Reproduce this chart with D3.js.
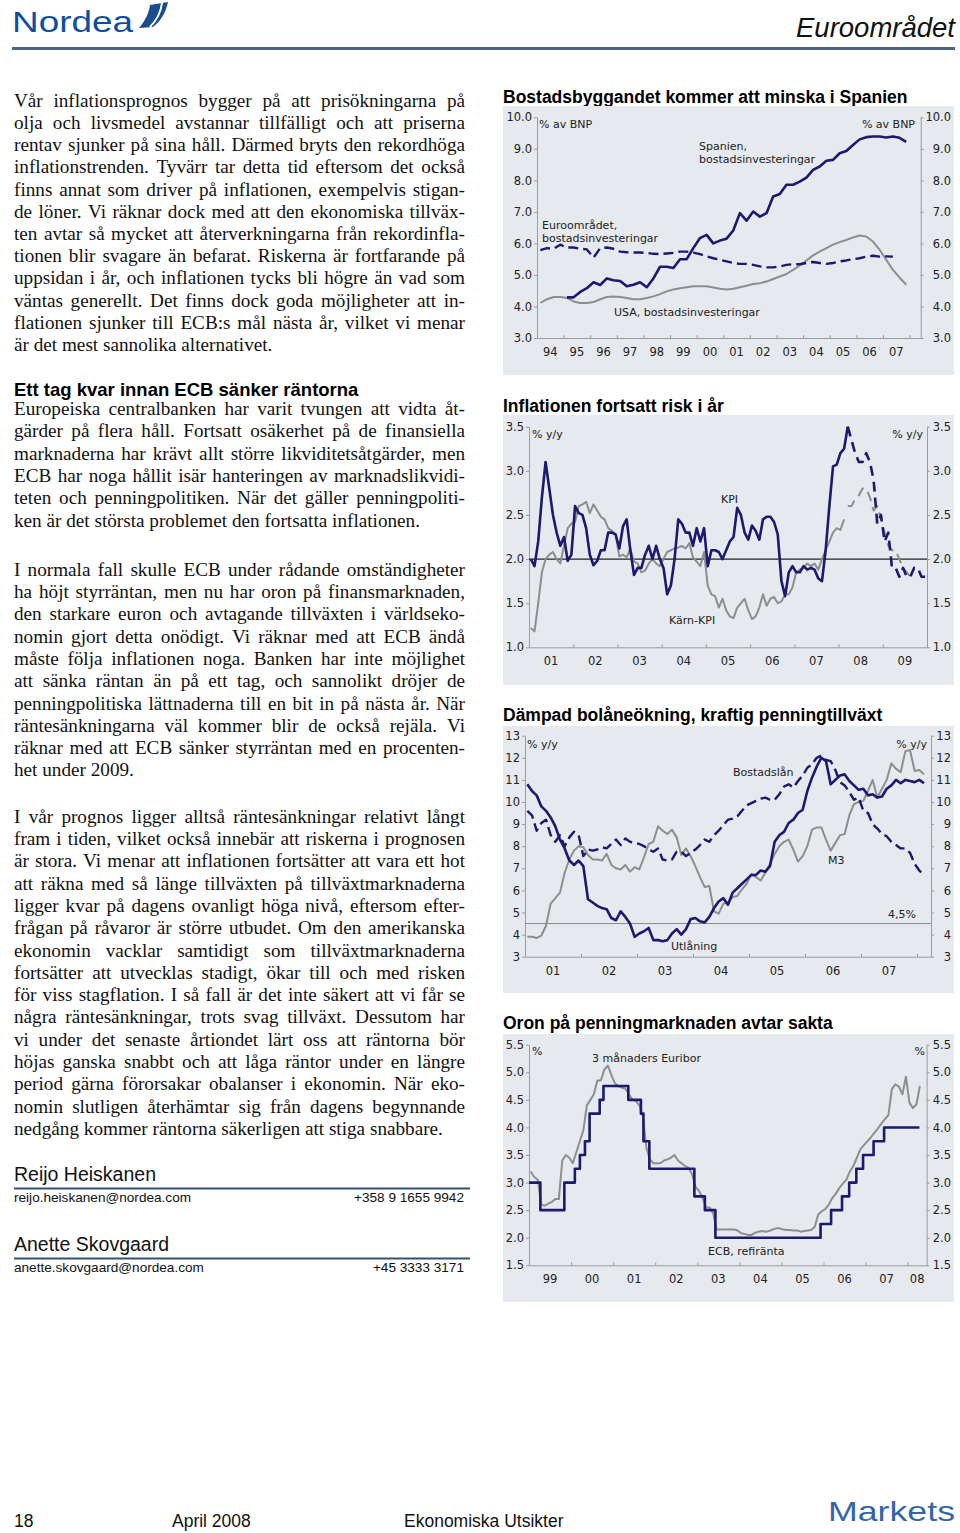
<!DOCTYPE html>
<html>
<head>
<meta charset="utf-8">
<script src="https://cdn.jsdelivr.net/npm/d3@7"></script>
<style>
body { margin: 0; background: #fff; }
svg { display: block; }
.body { font-family: 'Liberation Serif', 'Times New Roman', serif; font-size: 19.2px; fill: #111; }
.ctitle { font-family: 'Liberation Sans', Arial, sans-serif; font-weight: bold; font-size: 17.5px; fill: #000; }
.lbl { font-family: 'DejaVu Sans', Verdana, sans-serif; font-size: 11px; fill: #222; }
.axis path, .axis line { stroke: #9c9c9c; }
.axis text { font-family: 'DejaVu Sans', Verdana, sans-serif; font-size: 11.5px; fill: #222; }
.sans { font-family: 'Liberation Sans', Arial, sans-serif; fill: #111; }
</style>
</head>
<body>
<script>
// ---------- chart 1: housing investment, % of GDP, quarterly ----------
const spainStart = 1995
const spain = [4.29, 4.29, 4.46, 4.58, 4.77, 4.68, 4.89, 4.83, 4.81, 4.64, 4.69, 4.77,
	4.61, 4.89, 5.26, 5.26, 5.22, 5.5, 5.5, 5.85, 6.17, 6.27, 6.0, 6.09, 6.15, 6.41,
	6.96, 6.72, 7.01, 6.85, 6.96, 7.49, 7.57, 7.86, 7.86, 7.96, 8.09, 8.33, 8.44, 8.62,
	8.65, 8.86, 8.93, 9.12, 9.3, 9.37, 9.39, 9.39, 9.36, 9.39, 9.35, 9.22]
const euroStart = 1994
const euroArea = [5.79, 5.85, 5.83, 5.96, 5.87, 5.87, 5.83, 5.81, 5.55, 5.85, 5.87, 5.83,
	5.74, 5.72, 5.71, 5.71, 5.70, 5.67, 5.66, 5.68, 5.70, 5.74, 5.74, 5.71, 5.66, 5.59,
	5.53, 5.48, 5.43, 5.38, 5.35, 5.35, 5.32, 5.27, 5.24, 5.24, 5.27, 5.32, 5.34, 5.34,
	5.38, 5.41, 5.38, 5.35, 5.38, 5.43, 5.46, 5.50, 5.53, 5.58, 5.61, 5.58, 5.59, 5.58]
const usaStart = 1994
const usa = [4.11, 4.23, 4.3, 4.3, 4.27, 4.16, 4.11, 4.11, 4.14, 4.23, 4.3, 4.32, 4.3,
	4.27, 4.23, 4.23, 4.27, 4.32, 4.39, 4.48, 4.54, 4.58, 4.61, 4.64, 4.64, 4.64, 4.6,
	4.56, 4.54, 4.56, 4.61, 4.66, 4.71, 4.74, 4.79, 4.87, 4.95, 5.03, 5.16, 5.30, 5.46,
	5.62, 5.74, 5.85, 5.96, 6.04, 6.11, 6.19, 6.25, 6.22, 6.06, 5.80, 5.48, 5.16, 4.92, 4.69]
const c1Ticks = [3, 4, 5, 6, 7, 8, 9, 10]
const c1Labels = ['94', '95', '96', '97', '98', '99', '00', '01', '02', '03', '04', '05', '06', '07']

// ---------- chart 2: inflation, % y/y, monthly from Jan 2001 ----------
const kpi = [2.0, 1.92, 2.2, 2.7, 3.1, 2.8, 2.5, 2.3, 2.15, 2.25, 1.98, 2.05,
	2.6, 2.52, 2.5, 2.35, 2.05, 1.93, 1.98, 2.1, 2.1, 2.3, 2.3, 2.28,
	2.12, 2.37, 2.45, 2.1, 1.82, 1.9, 1.9, 2.05, 2.15, 2.0, 2.15, 2.0,
	1.9, 1.6, 1.7, 2.0, 2.45, 2.4, 2.3, 2.3, 2.15, 2.35, 2.2, 2.35,
	1.92, 2.1, 2.1, 2.08, 2.0, 2.1, 2.2, 2.25, 2.58, 2.5, 2.3, 2.22,
	2.38, 2.32, 2.22, 2.45, 2.48, 2.48, 2.42, 2.28, 1.75, 1.58, 1.85, 1.92,
	1.85, 1.85, 1.92, 1.88, 1.9, 1.88, 1.78, 1.75, 2.1, 2.6, 3.05, 3.07,
	3.2, 3.25, 3.5]
// forecast from Mar 2008
const kpiForecast = [3.5, 3.35, 3.2, 3.1, 3.1, 3.2, 3.1, 2.9, 2.4, 2.5, 2.2,
	2.3, 1.9, 1.9, 1.8, 1.9, 1.8, 1.8, 1.9, 1.9, 1.8, 1.8]
const coreKpi = [1.22, 1.18, 1.5, 1.85, 2.0, 2.05, 2.08, 2.0, 1.95, 2.15, 2.35, 2.4,
	2.42, 2.6, 2.62, 2.65, 2.52, 2.62, 2.55, 2.48, 2.45, 2.35, 2.32, 2.28,
	2.03, 2.05, 2.02, 2.12, 1.97, 1.95, 1.85, 1.87, 1.95, 2.0, 1.95, 1.92,
	2.0, 2.08, 2.1, 2.12, 2.13, 2.15, 2.12, 2.18, 2.02, 1.97, 1.92, 2.08,
	1.7, 1.6, 1.58, 1.45, 1.55, 1.42, 1.35, 1.33, 1.45, 1.5, 1.55, 1.42,
	1.32, 1.35, 1.45, 1.6, 1.47, 1.55, 1.57, 1.5, 1.52, 1.6, 1.6, 1.68,
	1.85, 1.88, 1.9, 1.95, 1.92, 1.95, 1.88, 2.0, 2.1, 2.2, 2.3, 2.35,
	2.33, 2.45]
const coreForecast = [2.6, 2.6, 2.68, 2.72, 2.8, 2.8, 2.7, 2.55, 2.6, 2.45, 2.3,
	2.15, 2.1, 2.1, 2.0, 1.9, 1.85, 1.8, 1.82]
const c2Ticks = [1.0, 1.5, 2.0, 2.5, 3.0, 3.5]
const c2Labels = ['01', '02', '03', '04', '05', '06', '07', '08', '09']

// ---------- chart 3: lending and money, % y/y, monthly from Jan 2001 ----------
const lending = [10.8, 10.5, 10.3, 9.8, 9.6, 9.3, 8.9, 8.3, 7.9, 7.35, 7.15, 7.35,
	7.1, 5.6, 5.45, 5.3, 5.2, 5.15, 4.75, 4.65, 5.05, 4.8, 4.5, 3.9,
	4.05, 4.15, 4.3, 3.75, 3.75, 3.7, 3.75, 4.05, 4.25, 4.0, 4.25, 4.7,
	4.75, 4.6, 4.55, 4.8, 5.2, 5.5, 5.65, 5.35, 5.9, 6.1, 6.3, 6.5,
	6.7, 6.7, 6.9, 6.85, 7.1, 8.2, 8.5, 8.65, 9.05, 9.2, 9.5, 9.65,
	10.5, 11.1, 11.6, 12.0, 11.85, 10.8, 11.0, 11.2, 11.25, 10.95, 10.75, 10.55,
	10.6, 10.3, 10.35, 10.2, 10.25, 10.6, 10.75, 11.0, 10.85, 11.0, 10.95, 10.9,
	11.0, 10.85]
const mortgages = [9.6, 9.4, 8.7, 9.05, 9.2, 8.5, 8.2, 8.5, 8.0, 8.4, 8.65, 8.5,
	7.55, 7.85, 7.8, 7.85, 7.95, 7.9, 8.1, 8.3, 8.05, 8.35, 8.2, 8.15,
	8.1, 8.0, 7.85, 7.75, 7.9, 7.4, 7.35, 7.4, 7.75, 7.75, 7.55, 7.7,
	7.85, 8.05, 8.3, 8.2, 8.5, 8.7, 8.95, 9.2, 9.25, 9.35, 9.6, 9.85,
	9.95, 10.05, 10.15, 10.2, 10.1, 10.1, 10.35, 10.7, 10.8, 10.65, 10.95, 11.2,
	11.55, 11.7, 12.0, 12.1, 11.9, 11.85, 11.45, 10.9, 10.75, 10.45, 10.1, 10.2,
	9.6, 9.5, 9.0, 8.8, 8.55, 8.45, 8.2, 8.05, 7.9, 7.9, 7.7, 7.2,
	6.9, 6.7]
const m3 = [3.9, 3.9, 3.85, 3.95, 4.4, 5.4, 5.65, 5.9, 6.8, 7.4, 7.8, 8.0,
	7.95, 7.6, 7.4, 7.4, 7.35, 7.65, 7.15, 7.0, 6.95, 7.15, 6.85, 7.05,
	6.95, 7.5, 8.1, 8.2, 8.9, 8.7, 8.55, 8.75, 8.4, 7.6, 7.9, 7.55,
	7.1, 6.6, 6.15, 6.2, 5.05, 4.95, 5.4, 5.45, 5.7, 5.75, 6.05, 6.3,
	6.75, 6.6, 6.45, 6.8, 7.2, 7.65, 8.0, 8.2, 8.3, 7.85, 7.3, 7.55,
	8.0, 8.75, 8.85, 8.85, 8.3, 7.8, 8.15, 8.5, 8.55, 9.4, 9.9, 10.0,
	10.05, 10.5, 11.0, 10.2, 10.6, 11.0, 11.75, 11.5, 11.35, 12.3, 12.35, 11.4,
	11.45, 11.25]
const m3Reference = 4.5
const c3Ticks = [3, 4, 5, 6, 7, 8, 9, 10, 11, 12, 13]
const c3Labels = ['01', '02', '03', '04', '05', '06', '07']

// ---------- chart 4: money market, %, monthly from Jan 1999 ----------
const euribor = [3.2, 3.1, 3.05, 2.6, 2.58, 2.62, 2.65, 2.7, 2.7, 3.4, 3.5, 3.45,
	3.35, 3.55, 3.75, 3.95, 4.4, 4.5, 4.6, 4.85, 4.85, 5.05, 5.12, 4.95,
	4.8, 4.75, 4.72, 4.7, 4.6, 4.5, 4.48, 4.4, 4.2, 3.62, 3.42, 3.35,
	3.35, 3.35, 3.4, 3.42, 3.45, 3.5, 3.4, 3.35, 3.3, 3.27, 3.15, 2.92,
	2.85, 2.72, 2.55, 2.55, 2.45, 2.15, 2.15, 2.15, 2.15, 2.15, 2.15, 2.13,
	2.08, 2.07, 2.05, 2.05, 2.09, 2.11, 2.12, 2.11, 2.12, 2.15, 2.17, 2.17,
	2.15, 2.14, 2.14, 2.13, 2.13, 2.11, 2.12, 2.13, 2.14, 2.2, 2.42, 2.48,
	2.52, 2.6, 2.72, 2.8, 2.9, 2.98, 3.05, 3.2, 3.3, 3.45, 3.6, 3.68,
	3.75, 3.82, 3.9, 3.98, 4.07, 4.15, 4.22, 4.7, 4.78, 4.74, 4.6, 4.92,
	4.45, 4.35, 4.42, 4.75]
const ecbDates = [1999.0, 1999.27, 1999.84, 2000.09, 2000.21, 2000.33, 2000.44, 2000.68,
	2000.77, 2001.36, 2001.66, 2001.72, 2001.86, 2002.93, 2003.18, 2003.43, 2005.93,
	2006.18, 2006.44, 2006.61, 2006.78, 2006.94, 2007.19, 2007.44, 2008.28]
const ecbRates = [3.0, 2.5, 3.0, 3.25, 3.5, 3.75, 4.25, 4.5, 4.75, 4.5, 4.25, 3.75, 3.25,
	2.75, 2.5, 2.0, 2.25, 2.5, 2.75, 3.0, 3.25, 3.5, 3.75, 4.0, 4.0]
const c4Ticks = [1.5, 2.0, 2.5, 3.0, 3.5, 4.0, 4.5, 5.0, 5.5]
const c4Labels = ['99', '00', '01', '02', '03', '04', '05', '06', '07', '08']

// ---------- text ----------
const para1 = [
	'Vår inflationsprognos bygger på att prisökningarna på',
	'olja och livsmedel avstannar tillfälligt och att priserna',
	'rentav sjunker på sina håll. Därmed bryts den rekordhöga',
	'inflationstrenden. Tyvärr tar detta tid eftersom det också',
	'finns annat som driver på inflationen, exempelvis stigan-',
	'de löner. Vi räknar dock med att den ekonomiska tillväx-',
	'ten avtar så mycket att återverkningarna från rekordinfla-',
	'tionen blir svagare än befarat. Riskerna är fortfarande på',
	'uppsidan i år, och inflationen tycks bli högre än vad som',
	'väntas generellt. Det finns dock goda möjligheter att in-',
	'flationen sjunker till ECB:s mål nästa år, vilket vi menar',
	'är det mest sannolika alternativet.']
const para2 = [
	'Europeiska centralbanken har varit tvungen att vidta åt-',
	'gärder på flera håll. Fortsatt osäkerhet på de finansiella',
	'marknaderna har krävt allt större likviditetsåtgärder, men',
	'ECB har noga hållit isär hanteringen av marknadslikvidi-',
	'teten och penningpolitiken. När det gäller penningpoliti-',
	'ken är det största problemet den fortsatta inflationen.']
const para3 = [
	'I normala fall skulle ECB under rådande omständigheter',
	'ha höjt styrräntan, men nu har oron på finansmarknaden,',
	'den starkare euron och avtagande tillväxten i världseko-',
	'nomin gjort detta onödigt. Vi räknar med att ECB ändå',
	'måste följa inflationen noga. Banken har inte möjlighet',
	'att sänka räntan än på ett tag, och sannolikt dröjer de',
	'penningpolitiska lättnaderna till en bit in på nästa år. När',
	'räntesänkningarna väl kommer blir de också rejäla. Vi',
	'räknar med att ECB sänker styrräntan med en procenten-',
	'het under 2009.']
const para4 = [
	'I vår prognos ligger alltså räntesänkningar relativt långt',
	'fram i tiden, vilket också innebär att riskerna i prognosen',
	'är stora. Vi menar att inflationen fortsätter att vara ett hot',
	'att räkna med så länge tillväxten på tillväxtmarknaderna',
	'ligger kvar på dagens ovanligt höga nivå, eftersom efter-',
	'frågan på råvaror är större utbudet. Om den amerikanska',
	'ekonomin vacklar samtidigt som tillväxtmarknaderna',
	'fortsätter att utvecklas stadigt, ökar till och med risken',
	'för viss stagflation. I så fall är det inte säkert att vi får se',
	'några räntesänkningar, trots svag tillväxt. Dessutom har',
	'vi under det senaste årtiondet lärt oss att räntorna bör',
	'höjas ganska snabbt och att låga räntor under en längre',
	'period gärna förorsakar obalanser i ekonomin. När eko-',
	'nomin slutligen återhämtar sig från dagens begynnande',
	'nedgång kommer räntorna säkerligen att stiga snabbare.']

const navy = '#1b1a6e'
const grey = '#8e8e8e'

const svg = d3.select('body').append('svg')
	.attr('width', 960)
	.attr('height', 1533)

// ---------- header ----------
svg.append('text')
	.attr('x', 12).attr('y', 32)
	.attr('class', 'sans')
	.attr('font-size', 30)
	.attr('textLength', 121).attr('lengthAdjust', 'spacingAndGlyphs')
	.style('fill', '#0d4f9e')
	.text('Nordea')
svg.append('path')
	.attr('d', 'M139,28 C146,20 149,12 150,5 L168,2 C166,12 161,21 153,27 Z')
	.attr('fill', '#1a4d8c')
svg.append('path')
	.attr('d', 'M150,27 C157,20 161,11 162,3')
	.attr('stroke', '#fff').attr('stroke-width', 2).attr('fill', 'none')
svg.append('text')
	.attr('x', 955).attr('y', 37)
	.attr('class', 'sans')
	.attr('text-anchor', 'end')
	.attr('font-size', 27.5)
	.attr('font-style', 'italic')
	.text('Euroområdet')
svg.append('line')
	.attr('x1', 12).attr('x2', 955).attr('y1', 48.5).attr('y2', 48.5)
	.attr('stroke', '#4b6585').attr('stroke-width', 3)

// ---------- justified body text ----------
function para(lines, y0, lh) {
	const x0 = 14, w = 451
	lines.forEach((ln, i) => {
		const t = svg.append('text').attr('class', 'body').attr('y', y0 + i * lh)
		if (i === lines.length - 1) {
			t.attr('x', x0).text(ln)
			return
		}
		const words = ln.split(' ')
		const spans = words.map(wd => t.append('tspan').text(wd))
		const ws = spans.map(s => s.node().getComputedTextLength())
		const gap = (w - d3.sum(ws)) / (words.length - 1)
		let cx = x0
		spans.forEach((s, j) => {
			s.attr('x', cx)
			cx += ws[j] + gap
		})
	})
}
para(para1, 106.7, 22.2)
svg.append('text')
	.attr('x', 14).attr('y', 395.7)
	.attr('class', 'ctitle')
	.style('font-size', '18.5px')
	.text('Ett tag kvar innan ECB sänker räntorna')
para(para2, 415, 22.3)
para(para3, 575.7, 22.3)
para(para4, 822.7, 22.3)

// ---------- authors ----------
function author(name, mail, phone, y) {
	svg.append('text').attr('class', 'sans').attr('x', 14).attr('y', y)
		.attr('font-size', 19.5).text(name)
	svg.append('line').attr('x1', 14).attr('x2', 470).attr('y1', y + 7.5).attr('y2', y + 7.5)
		.attr('stroke', '#34506f').attr('stroke-width', 2)
	svg.append('text').attr('class', 'sans').attr('x', 14).attr('y', y + 21)
		.attr('font-size', 13.6).text(mail)
	svg.append('text').attr('class', 'sans').attr('x', 464).attr('y', y + 21)
		.attr('font-size', 13.6).attr('text-anchor', 'end').text(phone)
}
author('Reijo Heiskanen', 'reijo.heiskanen@nordea.com', '+358 9 1655 9942', 1181)
author('Anette Skovgaard', 'anette.skovgaard@nordea.com', '+45 3333 3171', 1251)

// ---------- footer ----------
svg.append('text').attr('class', 'sans').attr('x', 14).attr('y', 1527).attr('font-size', 17.5).text('18')
svg.append('text').attr('class', 'sans').attr('x', 172).attr('y', 1527).attr('font-size', 17.5).text('April 2008')
svg.append('text').attr('class', 'sans').attr('x', 404).attr('y', 1527).attr('font-size', 17.5).text('Ekonomiska Utsikter')
svg.append('text').attr('class', 'sans').attr('x', 955).attr('y', 1521)
	.attr('text-anchor', 'end').attr('font-size', 28)
	.attr('textLength', 127).attr('lengthAdjust', 'spacingAndGlyphs')
	.style('fill', '#3466a6')
	.text('Markets')

// ---------- chart helpers ----------
const monthly = (arr, start) => arr.map((v, i) => [start + (i + 0.5) / 12, v])
const quarterly = (arr, start) => arr.map((v, i) => [start + (i + 0.5) / 4, v])

function drawChart(c) {
	svg.append('text').attr('class', 'ctitle').attr('x', 503).attr('y', c.titleY).text(c.title)
	svg.append('rect')
		.attr('x', 503).attr('y', c.panel[0])
		.attr('width', 451).attr('height', c.panel[1] - c.panel[0])
		.attr('fill', '#e6e9ee')

	const x = d3.scaleLinear().domain(c.xDomain).range([c.left, c.right])
	const y = d3.scaleLinear().domain(c.yDomain).range([c.bottom, c.top])

	svg.append('g').attr('class', 'axis')
		.attr('transform', `translate(${c.left},0)`)
		.call(d3.axisLeft(y).tickValues(c.yTicks).tickFormat(c.fmt)
			.tickSize(3).tickSizeOuter(0).tickPadding(2))

	const ra = svg.append('g').attr('class', 'axis')
		.attr('transform', `translate(${c.right},0)`)
		.call(d3.axisRight(y).tickValues(c.yTicks).tickFormat(c.fmt)
			.tickSize(3).tickSizeOuter(0))
	ra.selectAll('text').attr('x', 951 - c.right).attr('text-anchor', 'end')

	const yrs = d3.range(Math.floor(c.xDomain[0]) + 1, c.xDomain[1])
	svg.append('g').attr('class', 'axis')
		.attr('transform', `translate(0,${c.bottom})`)
		.call(d3.axisBottom(x).tickValues(yrs).tickSize(-3).tickSizeOuter(0).tickFormat(''))

	// year labels centred in the visible part of each year
	svg.append('g').selectAll('text')
		.data(c.xLabels)
		.join('text')
		.attr('class', 'lbl')
		.style('font-size', '11.5px')
		.attr('text-anchor', 'middle')
		.attr('x', (d, i) => {
			const y0 = Math.floor(c.xDomain[0]) + i
			return x((Math.max(y0, c.xDomain[0]) + Math.min(y0 + 1, c.xDomain[1])) / 2)
		})
		.attr('y', c.bottom + 18)
		.text(d => d)

	c.refs.forEach(r => {
		svg.append('line')
			.attr('x1', c.left).attr('x2', c.right)
			.attr('y1', y(r.value)).attr('y2', y(r.value))
			.attr('stroke', r.color).attr('stroke-width', r.width)
	})

	c.series.forEach(s => {
		const line = d3.line()
			.x(d => x(d[0]))
			.y(d => y(d[1]))
			.curve(s.curve || d3.curveLinear)
		svg.append('path')
			.datum(s.data)
			.attr('d', line)
			.attr('fill', 'none')
			.attr('stroke', s.color)
			.attr('stroke-width', s.width)
			.attr('stroke-linejoin', 'round')
			.attr('stroke-dasharray', s.dash || null)
	})

	c.notes.forEach(n => {
		svg.append('text')
			.attr('class', 'lbl')
			.attr('x', n[1]).attr('y', n[2])
			.attr('text-anchor', n[3] || 'start')
			.text(n[0])
	})
}

// chart 1
drawChart({
	title: 'Bostadsbyggandet kommer att minska i Spanien',
	titleY: 102.5,
	panel: [106, 375],
	left: 537, right: 920.7, top: 117.3, bottom: 338,
	xDomain: [1994, 2008.42], yDomain: [3, 10],
	yTicks: c1Ticks, fmt: d3.format('.1f'),
	xLabels: c1Labels,
	refs: [],
	series: [
		{ data: quarterly(usa, usaStart), color: grey, width: 2 },
		{ data: quarterly(euroArea, euroStart), color: navy, width: 2.4, dash: '10,5' },
		{ data: quarterly(spain, spainStart), color: navy, width: 2.6 },
	],
	notes: [
		['% av BNP', 539, 128.3],
		['% av BNP', 915, 128.3, 'end'],
		['Spanien,', 699, 150],
		['bostadsinvesteringar', 699, 162.7],
		['Euroområdet,', 542, 229],
		['bostadsinvesteringar', 542, 241.5],
		['USA, bostadsinvesteringar', 614, 315.7],
	],
})

// chart 2
drawChart({
	title: 'Inflationen fortsatt risk i år',
	titleY: 411.5,
	panel: [415, 685],
	left: 529, right: 927, top: 426.7, bottom: 647.3,
	xDomain: [2001, 2010], yDomain: [1, 3.5],
	yTicks: c2Ticks, fmt: d3.format('.1f'),
	xLabels: c2Labels,
	refs: [{ value: 2.0, color: '#222', width: 1.2 }],
	series: [
		{ data: monthly(coreKpi, 2001), color: grey, width: 2 },
		{ data: monthly(coreForecast, 2008 + 2 / 12), color: grey, width: 2, dash: '10,6' },
		{ data: monthly(kpi, 2001), color: navy, width: 2.6 },
		{ data: monthly(kpiForecast, 2008 + 2 / 12), color: navy, width: 2.6, dash: '10,6' },
	],
	notes: [
		['% y/y', 532, 438.3],
		['% y/y', 923, 438.3, 'end'],
		['KPI', 721, 503.3],
		['Kärn-KPI', 669, 624.3],
	],
})

// chart 3
drawChart({
	title: 'Dämpad bolåneökning, kraftig penningtillväxt',
	titleY: 721,
	panel: [726, 993],
	left: 525, right: 931, top: 735.7, bottom: 956.7,
	xDomain: [2001, 2008.25], yDomain: [3, 13],
	yTicks: c3Ticks, fmt: d3.format('d'),
	xLabels: c3Labels,
	refs: [{ value: m3Reference, color: '#8a8a8a', width: 1 }],
	series: [
		{ data: monthly(m3, 2001), color: grey, width: 2 },
		{ data: monthly(mortgages, 2001), color: navy, width: 2.4, dash: '10,5' },
		{ data: monthly(lending, 2001), color: navy, width: 2.6 },
	],
	notes: [
		['% y/y', 527, 747.7],
		['% y/y', 927, 747.7, 'end'],
		['Bostadslån', 733, 775.7],
		['M3', 828, 864.3],
		['4,5%', 888, 918.3],
		['Utlåning', 671, 950],
	],
})

// chart 4
drawChart({
	title: 'Oron på penningmarknaden avtar sakta',
	titleY: 1028.7,
	panel: [1034, 1302],
	left: 529, right: 926.6, top: 1044.7, bottom: 1265.3,
	xDomain: [1999, 2008.45], yDomain: [1.5, 5.5],
	yTicks: c4Ticks, fmt: d3.format('.1f'),
	xLabels: c4Labels,
	refs: [],
	series: [
		{ data: monthly(euribor, 1999), color: grey, width: 2 },
		{ data: ecbDates.map((d, i) => [d, ecbRates[i]]), color: navy, width: 2.6, curve: d3.curveStepAfter },
	],
	notes: [
		['%', 532, 1054.7],
		['%', 925, 1054.7, 'end'],
		['3 månaders  Euribor', 592, 1062],
		['ECB, refiränta', 708, 1254.7],
	],
})
</script>
</body>
</html>
